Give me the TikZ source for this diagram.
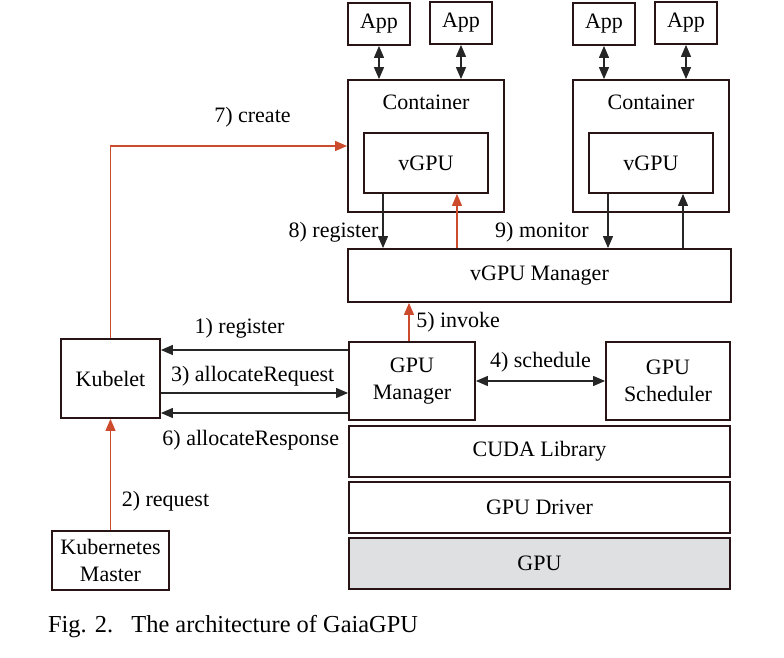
\documentclass[tikz,border=0pt]{standalone}
\usepackage{fontspec}
\setmainfont{Liberation Serif}
\usetikzlibrary{arrows.meta}
\definecolor{boxline}{RGB}{40, 20, 20}
\definecolor{linkred}{RGB}{205, 75, 45}
\definecolor{gpugray}{RGB}{222, 224, 226}

\tikzset{
  box/.style={draw=boxline, line width=0.9pt, align=center,
    font=\fontsize{11}{13.5}\selectfont},
  link/.style={line width=0.6pt, draw=black!85},
  redlink/.style={line width=0.6pt, draw=linkred},
  txt/.style={font=\fontsize{11}{13.5}\selectfont},
  >={Triangle[length=6pt,width=5pt]}
}

\begin{document}
\begin{tikzpicture}[x=0.5pt, y=-0.5pt]
  \useasboundingbox (0,0) rectangle (784,658);

  % Apps on top
  \node[box, minimum width=31pt, minimum height=21pt] (app1) at (379,24) {App};
  \node[box, minimum width=31pt, minimum height=21pt] (app2) at (461,23) {App};
  \node[box, minimum width=31pt, minimum height=21pt] (app3) at (604,24) {App};
  \node[box, minimum width=31pt, minimum height=21pt] (app4) at (686,23) {App};

  % Containers with vGPU inside
  \node[box, minimum width=78pt, minimum height=66pt] (cont1) at (426,146) {};
  \node[box, minimum width=78pt, minimum height=66pt] (cont2) at (651,146) {};
  \node[txt] (cont1lbl) at ([yshift=-11.5pt]cont1.north) {Container};
  \node[txt] (cont2lbl) at ([yshift=-11.5pt]cont2.north) {Container};
  \node[box, minimum width=62pt, minimum height=30pt] (vgpu1) at (426,163) {vGPU};
  \node[box, minimum width=62pt, minimum height=30pt] (vgpu2) at (651,163) {vGPU};

  % vGPU manager
  \node[box, minimum width=191.5pt, minimum height=26.5pt] (vmgr) at (539.5,275.5) {vGPU Manager};

  % Kubelet side
  \node[box, minimum width=49.5pt, minimum height=39.5pt] (kubelet) at (110.5,378.5) {Kubelet};
  \node[box, minimum width=58.5pt, minimum height=29.5pt] (master) at (110.5,560.5) {Kubernetes\\Master};

  % GPU stack
  \node[box, minimum width=63pt, minimum height=39pt] (gpumgr) at (412,381) {GPU\\Manager};
  \node[box, minimum width=62pt, minimum height=39pt] (gpusched) at (668,381) {GPU\\Scheduler};
  \node[box, minimum width=190.5pt, minimum height=25.5pt] (cuda) at (539.5,451.5) {CUDA Library};
  \node[box, minimum width=190.5pt, minimum height=25.5pt] (driver) at (539.5,507.5) {GPU Driver};
  \node[box, fill=gpugray, minimum width=190.5pt, minimum height=25.5pt] (gpu) at (539.5,563.5) {GPU};

  % App <-> Container
  \draw[link, <->] (app1.south) -- (app1.south |- cont1.north);
  \draw[link, <->] (app2.south) -- (app2.south |- cont1.north);
  \draw[link, <->] (app3.south) -- (app3.south |- cont2.north);
  \draw[link, <->] (app4.south) -- (app4.south |- cont2.north);

  % vGPU <-> vGPU manager
  \draw[link, ->] ([xshift=-21.5pt]vgpu1.south) coordinate (r1) -- (r1 |- vmgr.north)
    node[txt, pos=0.7, left, inner sep=2pt] {8) register};
  \draw[redlink, ->] ([xshift=15.5pt]vgpu1.south |- vmgr.north) coordinate (u1) -- (u1 |- vgpu1.south);
  \draw[link, ->] ([xshift=-21.5pt]vgpu2.south) coordinate (r2) -- (r2 |- vmgr.north)
    node[txt, pos=0.7, left=6pt] {9) monitor};
  \draw[link, ->] ([xshift=16pt]vgpu2.south |- vmgr.north) coordinate (u2) -- (u2 |- vgpu2.south);

  % GPU manager -> vGPU manager
  \draw[redlink, ->] ([xshift=-1.5pt]gpumgr.north) coordinate (i1) -- (i1 |- vmgr.south)
    node[txt, midway, right] {5) invoke};

  % Kubelet <-> GPU manager
  \draw[link, <-] ([yshift=14.25pt]kubelet.east) coordinate (k1) -- (k1 -| gpumgr.west)
    node[txt, pos=0.42, above=2pt] {1) register};
  \draw[link, ->] ([yshift=-7.25pt]kubelet.east) coordinate (k3) -- (k3 -| gpumgr.west)
    node[txt, pos=0.49, above] {3) allocateRequest};
  \draw[link, <-] ([yshift=-17.25pt]kubelet.east) coordinate (k6) -- (k6 -| gpumgr.west)
    node[txt, pos=0.48, below=5pt] {6) allocateResponse};

  % GPU manager <-> scheduler
  \draw[link, <->] (gpumgr.east) -- (gpusched.west)
    node[txt, midway, above=1pt] {4) schedule};

  % Kubelet creates container
  \draw[redlink, ->] (kubelet.north) |- (cont1.west)
    node[txt, pos=0.8, above=6pt] {7) create};

  % Master -> Kubelet
  \draw[redlink, ->] (master.north) -- (kubelet.south)
    node[txt, pos=0.26, right=2pt] {2) request};

  % caption
  \node[anchor=west, font=\fontsize{12.2}{14}\selectfont] (caption) at (41,627)
    {Fig. 2.\hspace{0.75em}The architecture of GaiaGPU};
\end{tikzpicture}
\end{document}
